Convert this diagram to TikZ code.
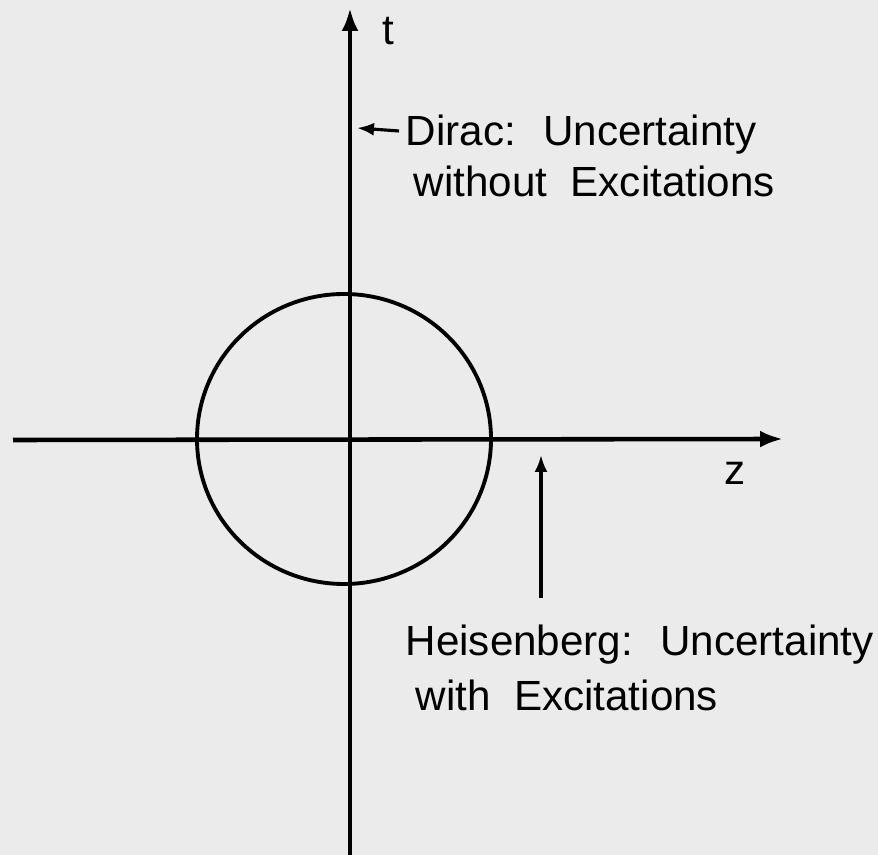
\documentclass[tikz,border=0pt]{standalone}
\usepackage{fontspec}
\setmainfont{Liberation Sans}
\usepackage{tikz}
\usetikzlibrary{arrows.meta,positioning}

\begin{document}
\begin{tikzpicture}[x=0.1mm, y=-0.1mm, every node/.style={font=\fontsize{12}{14}\selectfont, inner sep=0pt},
  axis/.style={line width=1.3pt, -{Latex[length=2.3mm, width=1.7mm]}},
  pointer/.style={line width=0.9pt, -{Latex[length=1.7mm, width=1.3mm]}},
  label/.style={anchor=base west}]
  \fill[black!8] (0,0) rectangle (878,855);
  \useasboundingbox (0,0) rectangle (878,855);
  % axes and circle
  \coordinate (tbot) at (350,855);
  \coordinate (ttop) at (350,8);
  \coordinate (zleft) at (13,440);
  \coordinate (zright) at (783,439);
  \coordinate (centre) at (344,439);
  \draw[axis] (tbot) -- (ttop);
  \draw[axis] (zleft) -- (zright);
  \draw[line width=1.1pt] (centre) ellipse[x radius=147, y radius=145];
  \node[label] (tlab) at (382,45) {t};
  \node[label] (zlab) at (724,485) {z};
  % Dirac
  \node[label] (dirac1) at (405,146) {Dirac: \ Uncertainty};
  \node[label] (dirac2) at (413,197) {without \ Excitations};
  \coordinate (dirtip) at (357,128);
  \draw[pointer] ([xshift=-0.6mm,yshift=1.5mm]dirac1.base west) -- (dirtip);
  % Heisenberg
  \node[label] (heis1) at (405,655) {Heisenberg: \ Uncertainty};
  \node[label] (heis2) at (415,710) {with \ Excitations};
  \coordinate (heistail) at (541,598);
  \coordinate (heistip) at (541,455);
  \draw[pointer] (heistail) -- (heistip);
\end{tikzpicture}
\end{document}
